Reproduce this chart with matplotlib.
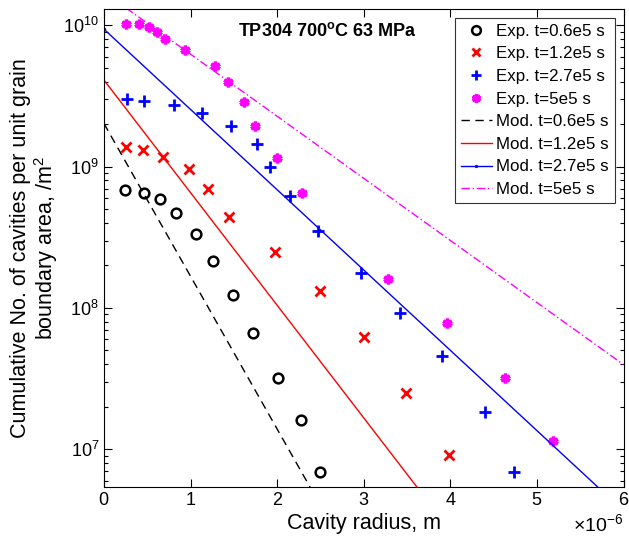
import numpy as np
import matplotlib
matplotlib.use("Agg")
import matplotlib.pyplot as plt
from matplotlib.ticker import ScalarFormatter, LogLocator, NullFormatter

plt.rcParams['font.family'] = ['Liberation Sans', 'DejaVu Sans']
plt.rcParams['mathtext.fontset'] = 'custom'
plt.rcParams['mathtext.rm'] = 'Liberation Sans'
plt.rcParams['mathtext.bf'] = 'Liberation Sans:bold'

# Experimental data (x in micrometres, y in cavities per m^2)
x_exp_06 = [0.24, 0.46, 0.65, 0.83, 1.06, 1.26, 1.49, 1.72, 2.01, 2.28, 2.50]
y_exp_06 = [6.8e8, 6.5e8, 5.9e8, 4.7e8, 3.34e8, 2.15e8, 1.23e8, 6.6e7, 3.2e7, 1.61e7, 6.9e6]

x_exp_12 = [0.25, 0.45, 0.68, 0.98, 1.20, 1.44, 1.97, 2.50, 3.00, 3.49, 3.99]
y_exp_12 = [1.38e9, 1.31e9, 1.18e9, 9.7e8, 6.9e8, 4.4e8, 2.5e8, 1.32e8, 6.2e7, 2.5e7, 9.1e6]

x_exp_27 = [0.27, 0.46, 0.81, 1.13, 1.47, 1.77, 1.92, 2.15, 2.47, 2.97, 3.42, 3.90, 4.40, 4.74]
y_exp_27 = [3.02e9, 2.93e9, 2.73e9, 2.38e9, 1.94e9, 1.44e9, 9.9e8, 6.2e8, 3.5e8, 1.76e8, 9.2e7, 4.6e7, 1.82e7, 6.9e6]

x_exp_5 = [0.25, 0.41, 0.52, 0.61, 0.70, 0.94, 1.28, 1.43, 1.62, 1.74, 2.00, 2.29, 3.28, 3.96, 4.63, 5.18]
y_exp_5 = [1.03e10, 1.02e10, 9.7e9, 9.0e9, 8.0e9, 6.65e9, 5.2e9, 4.0e9, 2.87e9, 1.94e9, 1.16e9, 6.5e8, 1.59e8, 7.8e7, 3.2e7, 1.14e7]

# Model lines (straight in log space; two end points each)
x_mod_06 = [0.0, 2.5]
y_mod_06 = [2.02e9, 4.0e6]
x_mod_12 = [0.0, 4.0]
y_mod_12 = [4.1e9, 2.66e6]
x_mod_27 = [0.0, 6.0]
y_mod_27 = [9.4e9, 3.66e6]
x_mod_5 = [0.0, 6.0]
y_mod_5 = [1.72e10, 3.97e7]

um = 1e-6
fig = plt.figure(figsize=(6.29, 5.40), dpi=100)
ax = fig.add_axes([0.1653, 0.0987, 0.8260, 0.8841])

ax.plot(np.array(x_exp_06) * um, y_exp_06, 'o', ls='none', mfc='none', mec='black', mew=1.8, ms=7,
        label='Exp. t=0.6e5 s')
ax.plot(np.array(x_exp_12) * um, y_exp_12, 'x', ls='none', color='red', mew=2, ms=6.5,
        label='Exp. t=1.2e5 s')
ax.plot(np.array(x_exp_27) * um, y_exp_27, '+', ls='none', color='blue', mew=2, ms=8,
        label='Exp. t=2.7e5 s')
ax.plot(np.array(x_exp_5) * um, y_exp_5, marker=(6, 2, 0), ls='none', color='magenta', mew=2.5, ms=7,
        label='Exp. t=5e5 s')

ax.plot(np.array(x_mod_06) * um, y_mod_06, color='black', ls=(0, (6, 4)), lw=1,
        label='Mod. t=0.6e5 s')
ax.plot(np.array(x_mod_12) * um, y_mod_12, color='red', ls='-', lw=1, label='Mod. t=1.2e5 s')
ax.plot(np.array(x_mod_27) * um, y_mod_27, color='blue', ls='-', lw=1, marker='.', ms=3,
        label='Mod. t=2.7e5 s')
ax.plot(np.array(x_mod_5) * um, y_mod_5, color='magenta', ls=(0, (6, 2, 1, 2)), lw=1,
        label='Mod. t=5e5 s')

ax.set_yscale('log')
ax.set_xlim(0, 6e-6)
ax.set_ylim(5.43e6, 1.30e10)

fmt = ScalarFormatter(useMathText=True)
fmt.set_powerlimits((-3, 3))
ax.xaxis.set_major_formatter(fmt)
ax.set_xticks(np.arange(0, 7) * um)
ax.xaxis.get_offset_text().set_fontsize(14)

ax.yaxis.set_major_locator(LogLocator(base=10, numticks=10))
ax.yaxis.set_minor_locator(LogLocator(base=10, subs=np.arange(2, 10), numticks=20))
ax.yaxis.set_minor_formatter(NullFormatter())

ax.tick_params(which='both', direction='in', top=True, right=True, labelsize=13)
ax.tick_params(which='major', length=6, width=0.8)
ax.tick_params(which='minor', length=3, width=0.8)
for s in ax.spines.values():
    s.set_linewidth(0.8)

ax.set_xlabel('Cavity radius, m', fontsize=15.5, labelpad=3)
ax.set_ylabel('Cumulative No. of cavities per unit grain\nboundary area, /m$^2$', fontsize=15.5,
              linespacing=1.05)
ax.yaxis.set_label_coords(-0.085, 0.5)

ax.text(0.43, 0.955, r'TP304 700$^{\mathbf{o}}$C 63 MPa', transform=ax.transAxes,
        ha='center', va='center', fontsize=13, fontweight='bold')

leg = ax.legend(loc='upper right', fontsize=12.2, frameon=True, fancybox=False,
                edgecolor='black', handlelength=1.87, handletextpad=0.25, labelspacing=0.45,
                borderpad=0.35, borderaxespad=0.5, markerscale=0.9, numpoints=1)
leg.get_frame().set_linewidth(0.8)

fig.savefig('out.png', dpi=100)
